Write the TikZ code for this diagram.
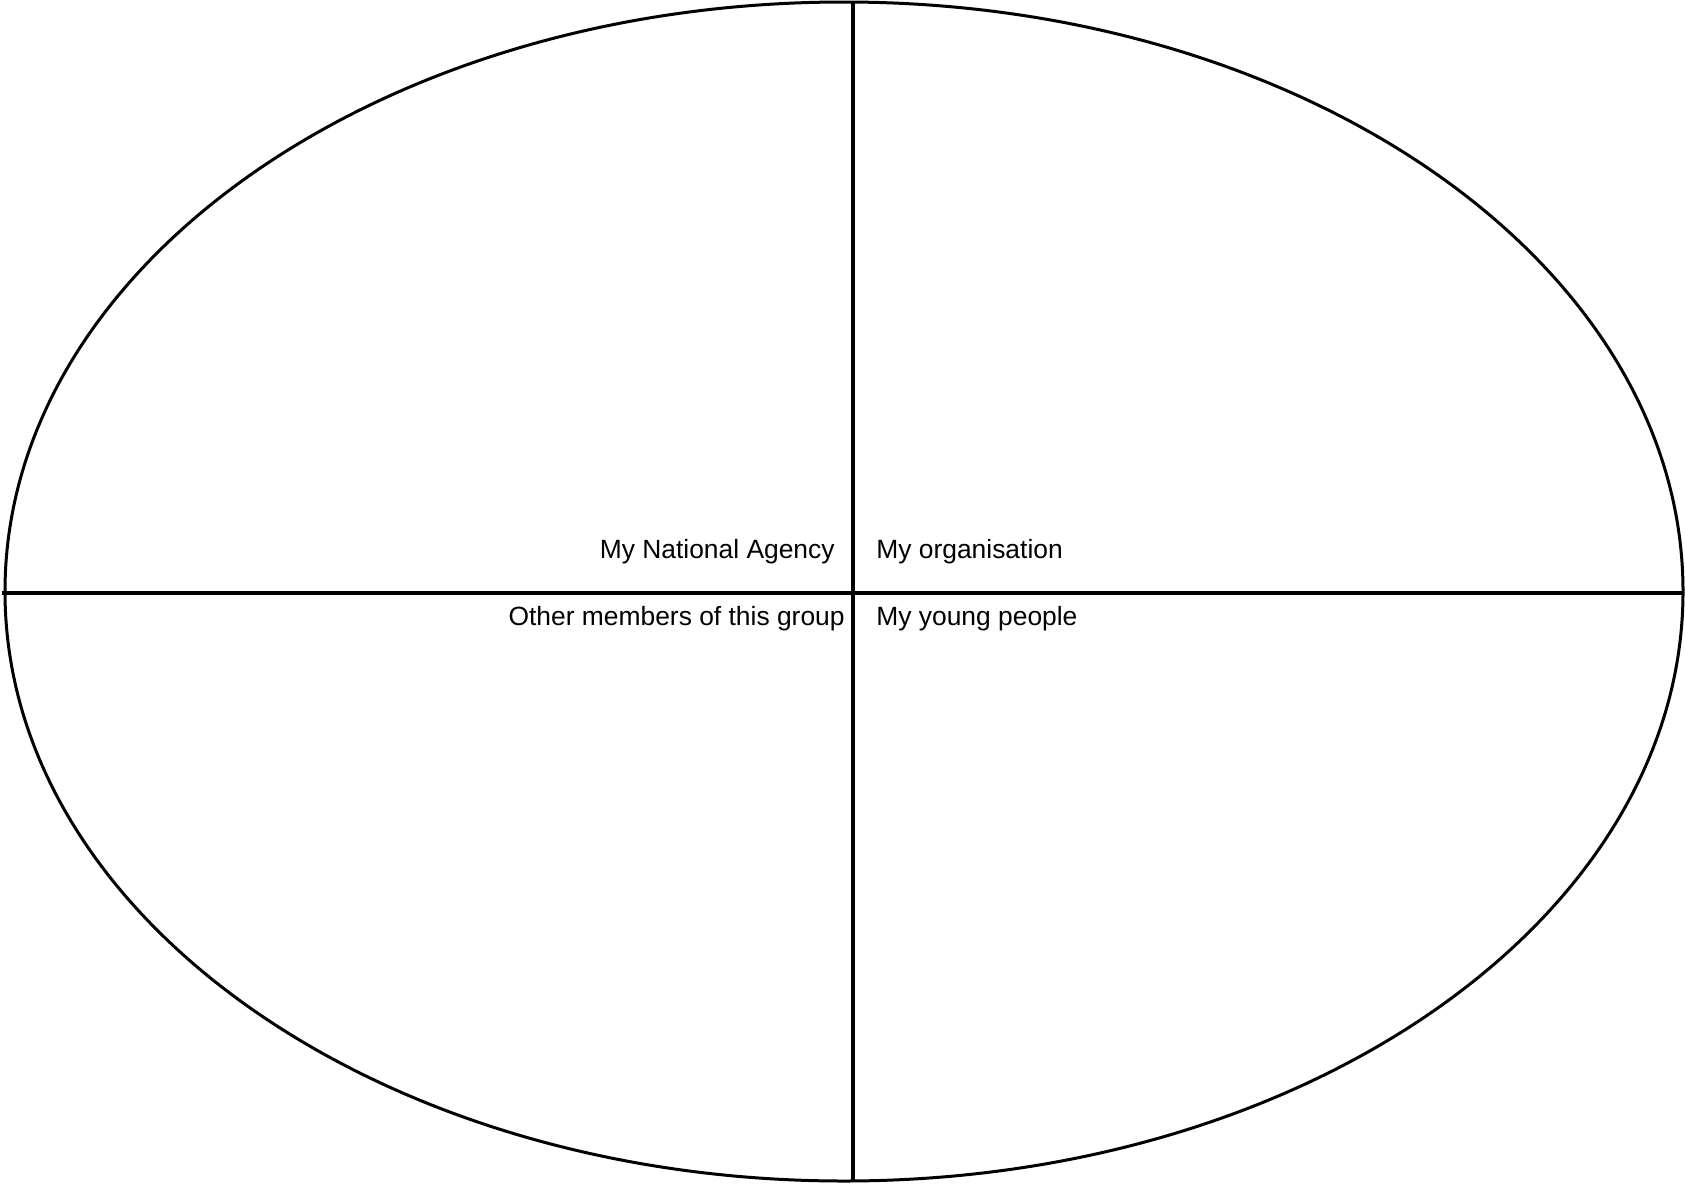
\documentclass[tikz,border=0pt]{standalone}
\usepackage{fontspec}
\setmainfont{Liberation Sans}

\tikzset{
    quadlabel/.style={inner sep=0pt,font=\fontsize{13.2}{15}\selectfont},
}

\begin{document}
\begin{tikzpicture}[x=0.5pt,y=-0.5pt]
            \useasboundingbox (0,0) rectangle (1685,1183);
            \draw[line width=1.5pt] (844,591.5) ellipse [x radius=839,y radius=589.5];
            \coordinate (west) at (2,593);
            \coordinate (east) at (1682,593);
            \coordinate (north) at (853,2);
            \coordinate (south) at (853,1181);
            \draw[line width=1.7pt] (west)--(east);
            \draw[line width=1.7pt] (north)--(south);

            \node[quadlabel,anchor=base east] (agency) at (835,558){My National Agency};
            \node[quadlabel,anchor=base west] (organisation) at (876,558){My organisation};
            \node[quadlabel,anchor=base east] (members) at (845,625){Other members of this group};
            \node[quadlabel,anchor=base west] (young) at (876,625){My young people};
        \end{tikzpicture}
\end{document}
